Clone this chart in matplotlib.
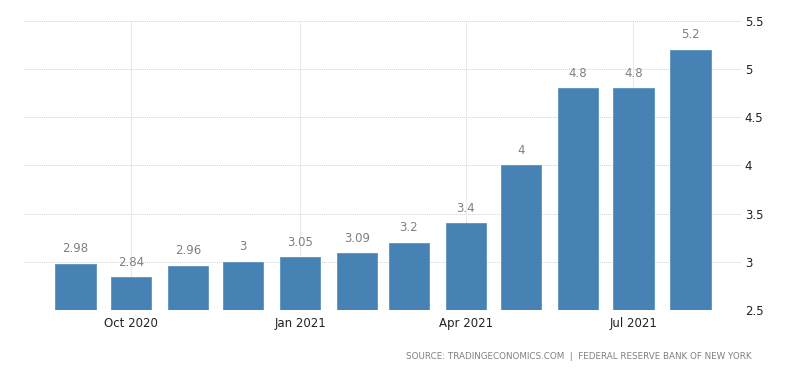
import matplotlib
matplotlib.use("Agg")
import matplotlib.pyplot as plt
import matplotlib.dates as mdates
import datetime as dt

months = ["2020-09", "2020-10", "2020-11", "2020-12", "2021-01", "2021-02",
          "2021-03", "2021-04", "2021-05", "2021-06", "2021-07", "2021-08"]
values = [2.98, 2.84, 2.96, 3, 3.05, 3.09, 3.2, 3.4, 4, 4.8, 4.8, 5.2]
value_labels = ["2.98", "2.84", "2.96", "3", "3.05", "3.09", "3.2", "3.4", "4", "4.8", "4.8", "5.2"]
xtick_months = ["2020-10", "2021-01", "2021-04", "2021-07"]
xtick_labels = ["Oct 2020", "Jan 2021", "Apr 2021", "Jul 2021"]
yticks = [2.5, 3, 3.5, 4, 4.5, 5, 5.5]
ytick_labels = ["2.5", "3", "3.5", "4", "4.5", "5", "5.5"]
source = "SOURCE: TRADINGECONOMICS.COM  |  FEDERAL RESERVE BANK OF NEW YORK"

def to_date(s):
    y, m = s.split("-")
    return dt.datetime(int(y), int(m), 1)

dates = [to_date(m) for m in months]
xd = mdates.date2num(dates)

fig = plt.figure(figsize=(8, 3.73), dpi=100)
ax = fig.add_axes([0.03, 0.169, 0.8975, 0.775])

bar_color = "#4682b4"
ax.bar(xd, [v - 2.5 for v in values], bottom=2.5, width=22, color=bar_color,
       edgecolor="#5a93c2", linewidth=0.6, zorder=3)

for x, v, lab in zip(xd, values, value_labels):
    ax.annotate(lab, (x, v), xytext=(0, 6), textcoords="offset points",
                ha="center", va="bottom", fontsize=8.5, color="#808080")

ax.set_ylim(2.5, 5.5)
ax.set_xlim(xd[0] - 28, xd[-1] + 28)

ax.yaxis.tick_right()
ax.set_yticks(yticks)
ax.set_yticklabels(ytick_labels)
ax.set_xticks(mdates.date2num([to_date(m) for m in xtick_months]))
ax.set_xticklabels(xtick_labels)

ax.tick_params(axis="y", length=0, pad=2, labelsize=8.5, labelcolor="#222222")
ax.tick_params(axis="x", length=0, pad=5, labelsize=8.5, labelcolor="#222222")
for lab in ax.get_yticklabels():
    lab.set_horizontalalignment("left")

ax.grid(True, linestyle=(0, (1, 1)), color="#d2d2d2", linewidth=0.7, zorder=0)
ax.set_axisbelow(True)
for s in ax.spines.values():
    s.set_visible(False)

fig.text(0.94, 0.043, source, ha="right", va="center", fontsize=6.3, color="#808080")

fig.savefig("out.png", dpi=100)
